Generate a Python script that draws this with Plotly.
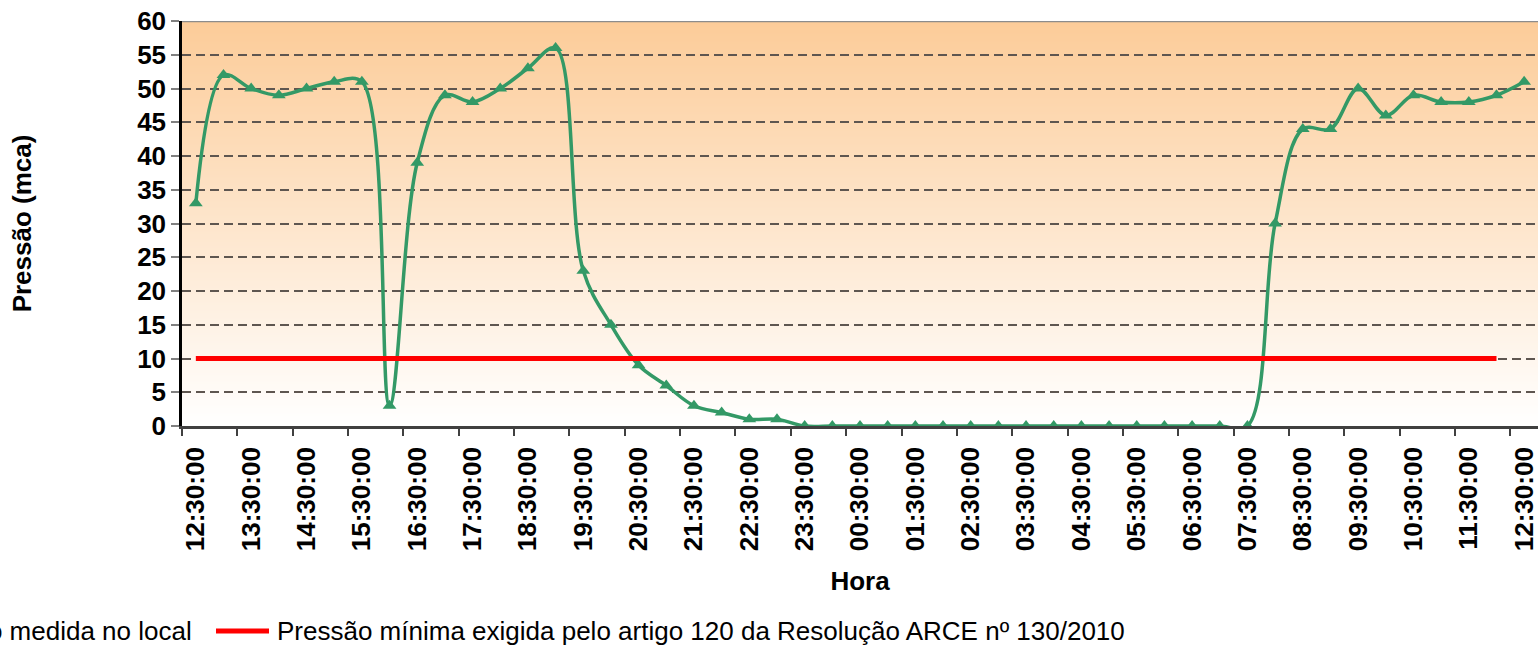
import zlib, struct, base64
import plotly.graph_objects as go

# ---------------- data ----------------
times = ["12:30", "13:00", "13:30", "14:00", "14:30", "15:00", "15:30", "16:00",
         "16:30", "17:00", "17:30", "18:00", "18:30", "19:00", "19:30", "20:00",
         "20:30", "21:00", "21:30", "22:00", "22:30", "23:00", "23:30", "00:00",
         "00:30", "01:00", "01:30", "02:00", "02:30", "03:00", "03:30", "04:00",
         "04:30", "05:00", "05:30", "06:00", "06:30", "07:00", "07:30", "08:00",
         "08:30", "09:00", "09:30", "10:00", "10:30", "11:00", "11:30", "12:00",
         "12:30"]

pressure = [33, 52, 50, 49, 50, 51, 51, 3, 39, 49, 48, 50, 53, 56, 23, 15,
            9, 6, 3, 2, 1, 1, 0, 0, 0, 0, 0, 0, 0, 0, 0, 0,
            0, 0, 0, 0, 0, 0, 0, 30, 44, 44, 50, 46, 49, 48, 48, 49,
            51]

minimum = [10] * 48

hour_labels = ["12:30:00", "13:30:00", "14:30:00", "15:30:00", "16:30:00",
               "17:30:00", "18:30:00", "19:30:00", "20:30:00", "21:30:00",
               "22:30:00", "23:30:00", "00:30:00", "01:30:00", "02:30:00",
               "03:30:00", "04:30:00", "05:30:00", "06:30:00", "07:30:00",
               "08:30:00", "09:30:00", "10:30:00", "11:30:00", "12:30:00"]

series_names = ["Pressão medida no local",
                "Pressão mínima exigida pelo artigo 120 da Resolução ARCE nº 130/2010"]

# ---------------- helpers ----------------
def gradient_png(top, bottom, n=256, w=4):
    rows = b""
    for i in range(n):
        t = i / (n - 1)
        c = bytes(round(top[j] + (bottom[j] - top[j]) * t) for j in range(3))
        rows += b"\x00" + c * w

    def chunk(tag, data):
        return (struct.pack(">I", len(data)) + tag + data +
                struct.pack(">I", zlib.crc32(tag + data) & 0xffffffff))

    png = (b"\x89PNG\r\n\x1a\n" +
           chunk(b"IHDR", struct.pack(">IIBBBBB", w, n, 8, 2, 0, 0, 0)) +
           chunk(b"IDAT", zlib.compress(rows)) +
           chunk(b"IEND", b""))
    return "data:image/png;base64," + base64.b64encode(png).decode()

FONT = "Arial, 'Liberation Sans', sans-serif"
GREEN = "#339966"

x_idx = list(range(len(times)))
n_cat = len(times)

fig = go.Figure()

fig.add_trace(go.Scatter(
    x=x_idx, y=pressure, mode="lines+markers", name=series_names[0],
    line=dict(color=GREEN, width=3.5, shape="spline", smoothing=1.0),
    marker=dict(symbol="triangle-up", size=12, color=GREEN),
    showlegend=False, cliponaxis=True))

fig.add_trace(go.Scatter(
    x=x_idx[:len(minimum)], y=minimum, mode="lines", name=series_names[1],
    line=dict(color="#FF0000", width=5),
    showlegend=False))

# gradient background of the plot area
fig.add_layout_image(dict(
    source=gradient_png((252, 204, 153), (255, 255, 255)),
    xref="x", yref="y", x=-0.5, y=60, sizex=n_cat, sizey=60,
    sizing="stretch", xanchor="left", yanchor="top", layer="below"))

# top border of the plot area
fig.add_shape(type="line", xref="paper", yref="y", x0=0, x1=1, y0=60, y1=60,
              line=dict(color="#8C8C8C", width=2.5), layer="above")

# legend (partly cut off on the left, like the reference)
fig.add_annotation(xref="paper", yref="paper", x=(194 - 182) / 1356, y=-0.506,
                   xanchor="right", yanchor="middle", showarrow=False,
                   text=series_names[0], font=dict(family=FONT, size=26, color="black"))
fig.add_shape(type="line", xref="paper", yref="paper",
              x0=(216 - 182) / 1356, x1=(269 - 182) / 1356, y0=-0.506, y1=-0.506,
              line=dict(color="#FF0000", width=5))
fig.add_annotation(xref="paper", yref="paper", x=(275 - 182) / 1356, y=-0.506,
                   xanchor="left", yanchor="middle", showarrow=False,
                   text=series_names[1], font=dict(family=FONT, size=26, color="black"))

fig.update_layout(
    width=1538, height=646,
    margin=dict(l=182, r=0, t=21, b=220, pad=0),
    paper_bgcolor="white", plot_bgcolor="white",
    font=dict(family=FONT, size=26, color="black"),
    showlegend=False,
)

fig.update_xaxes(
    range=[-0.5, n_cat - 0.5], tickmode="array",
    tickvals=x_idx[::2], ticktext=hour_labels, tickangle=-90,
    ticks="outside", ticklen=8, tickcolor="rgba(0,0,0,0)",
    ticklabeloverflow="allow",
    tickfont=dict(family=FONT, size=26, color="black", weight="bold"),
    minor=dict(tickmode="array", tickvals=[v - 0.5 for v in x_idx[::2]],
               ticks="outside", ticklen=7, tickwidth=1.5, tickcolor="#404040",
               showgrid=False),
    showgrid=False, zeroline=False,
    showline=True, linecolor="#404040", linewidth=2.5,
    automargin=False,
    title=dict(text="<b>Hora</b>", font=dict(family=FONT, size=26), standoff=22),
)

fig.update_yaxes(
    range=[0, 60], dtick=5, tick0=0,
    ticks="outside", ticklen=8, tickwidth=2, tickcolor="#808080",
    tickfont=dict(family=FONT, size=26, color="black", weight="bold"),
    showgrid=True, gridcolor="#5E5650", gridwidth=1.5, griddash="9px,5px",
    zeroline=False, showline=True, linecolor="black", linewidth=2.5,
    automargin=False,
    title=dict(text="<b>Pressão (mca)</b>", font=dict(family=FONT, size=26), standoff=99),
)

fig.write_html("out.html", config={"displayModeBar": False},
               post_script="document.body.style.margin='0';")
